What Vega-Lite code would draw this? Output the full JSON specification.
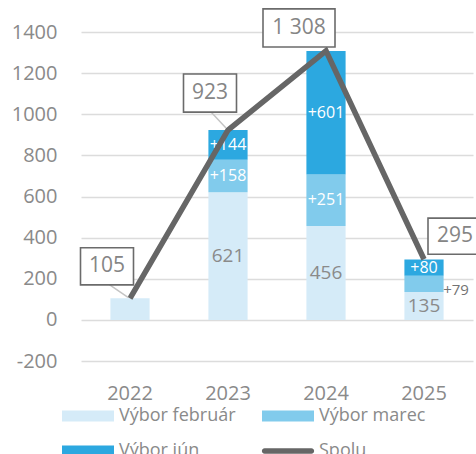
{
  "$schema": "https://vega.github.io/schema/vega-lite/v6.json",
  "width": 392,
  "height": 329,
  "autosize": {"type": "none"},
  "padding": {"left": 81, "top": 32, "right": 3, "bottom": 93},
  "config": {
    "font": "Open Sans",
    "view": {"stroke": null},
    "locale": {"number": {"decimal": ",", "thousands": " ", "grouping": [3], "currency": ["", " €"], "minus": "-"}}
  },
  "datasets": {
    "bars": [
      {"rok": "2022", "vybor": "Výbor február", "poradie": 1, "hodnota": 105},
      {"rok": "2023", "vybor": "Výbor február", "poradie": 1, "hodnota": 621},
      {"rok": "2023", "vybor": "Výbor marec", "poradie": 2, "hodnota": 158},
      {"rok": "2023", "vybor": "Výbor jún", "poradie": 3, "hodnota": 144},
      {"rok": "2024", "vybor": "Výbor február", "poradie": 1, "hodnota": 456},
      {"rok": "2024", "vybor": "Výbor marec", "poradie": 2, "hodnota": 251},
      {"rok": "2024", "vybor": "Výbor jún", "poradie": 3, "hodnota": 601},
      {"rok": "2025", "vybor": "Výbor február", "poradie": 1, "hodnota": 135},
      {"rok": "2025", "vybor": "Výbor marec", "poradie": 2, "hodnota": 79},
      {"rok": "2025", "vybor": "Výbor jún", "poradie": 3, "hodnota": 80}
    ],
    "spolu": [
      {"rok": "2022", "seria": "Spolu", "spolu": 105},
      {"rok": "2023", "seria": "Spolu", "spolu": 923},
      {"rok": "2024", "seria": "Spolu", "spolu": 1308},
      {"rok": "2025", "seria": "Spolu", "spolu": 295}
    ]
  },
  "encoding": {
    "x": {
      "field": "rok",
      "type": "nominal",
      "scale": {"paddingInner": 0.6, "paddingOuter": 0.3},
      "axis": {
        "title": null,
        "labelAngle": 0,
        "labelFontSize": 20,
        "labelColor": "#8a8a8a",
        "labelPadding": 22,
        "domain": false,
        "ticks": false
      }
    }
  },
  "layer": [
    {
      "data": {"name": "bars"},
      "mark": {"type": "bar"},
      "encoding": {
        "y": {
          "field": "hodnota",
          "type": "quantitative",
          "stack": "zero",
          "scale": {"domain": [-200, 1400], "nice": false},
          "axis": {
            "title": null,
            "values": [-200, 0, 200, 400, 600, 800, 1000, 1200, 1400],
            "format": "d",
            "labelFontSize": 20,
            "labelColor": "#8a8a8a",
            "labelPadding": 24,
            "domain": false,
            "ticks": false,
            "gridColor": "#dcdcdc",
            "gridWidth": 1.3
          }
        },
        "order": {"field": "poradie", "type": "quantitative"},
        "color": {
          "field": "vybor",
          "type": "nominal",
          "scale": {
            "domain": ["Výbor február", "Výbor marec", "Výbor jún", "Spolu"],
            "range": ["#d5ebf8", "#81cbec", "#2ca8e0", "#666666"]
          },
          "legend": {
            "title": null,
            "orient": "none",
            "direction": "horizontal",
            "legendX": -19,
            "legendY": 358,
            "columns": 2,
            "columnPadding": 25,
            "rowPadding": -22,
            "symbolType": "M-1,-0.21H1V0.21H-1Z",
            "symbolSize": 2704,
            "symbolStrokeWidth": 0,
            "labelFontSize": 18,
            "labelColor": "#8a8a8a",
            "labelOffset": 5,
            "encode": {
              "symbols": {
                "update": {
                  "size": {"value": 2704},
                  "strokeWidth": {"value": 0},
                  "opacity": {"value": 1},
                  "fill": {"signal": "scale('color', datum.value)"},
                  "shape": {"signal": "datum.value === 'Spolu' ? 'M-0.9,-0.105H0.9A0.105,0.105 0 0 1 0.9,0.105H-0.9A0.105,0.105 0 0 1 -0.9,-0.105Z' : 'M-1,-0.21H1V0.21H-1Z'"}
                }
              }
            }
          }
        }
      }
    },
    {
      "data": {"name": "bars"},
      "transform": [
        {"stack": "hodnota", "groupby": ["rok"], "sort": [{"field": "poradie"}], "as": ["y0", "y1"]},
        {"calculate": "(datum.y0 + datum.y1) / 2", "as": "stred"},
        {"calculate": "datum.poradie === 1 ? '' + datum.hodnota : '+' + datum.hodnota", "as": "popis"},
        {"filter": "datum.rok !== '2022' && !(datum.rok === '2025' && datum.poradie === 2)"}
      ],
      "mark": {"type": "text", "baseline": "middle"},
      "encoding": {
        "y": {"field": "stred", "type": "quantitative"},
        "text": {"field": "popis"},
        "size": {
          "condition": {"test": "datum.poradie === 1", "value": 19},
          "value": 16
        },
        "color": {
          "condition": {"test": "datum.poradie === 1", "value": "#8a8a8a"},
          "value": "#ffffff"
        }
      }
    },
    {
      "data": {"name": "bars"},
      "transform": [
        {"stack": "hodnota", "groupby": ["rok"], "sort": [{"field": "poradie"}], "as": ["y0", "y1"]},
        {"calculate": "(datum.y0 + datum.y1) / 2", "as": "stred"},
        {"calculate": "'+' + datum.hodnota", "as": "popis"},
        {"filter": "datum.rok === '2025' && datum.poradie === 2"}
      ],
      "mark": {"type": "text", "fontSize": 15, "baseline": "middle", "dx": 32, "dy": 6, "color": "#737373"},
      "encoding": {
        "y": {"field": "stred", "type": "quantitative"},
        "text": {"field": "popis"}
      }
    },
    {
      "data": {"name": "spolu"},
      "mark": {"type": "line", "strokeWidth": 5.5, "strokeJoin": "miter"},
      "encoding": {
        "y": {"field": "spolu", "type": "quantitative"},
        "color": {"field": "seria", "type": "nominal"}
      }
    },
    {
      "data": {"name": "spolu"},
      "transform": [{"filter": "datum.rok === '2022'"}],
      "layer": [
        {
          "mark": {"type": "rule", "color": "#c4c4c4", "strokeWidth": 1.5, "xOffset": -21, "yOffset": -14, "x2Offset": -2, "y2Offset": -1},
          "encoding": {
            "y": {"field": "spolu", "type": "quantitative"},
            "x2": {"field": "rok"},
            "y2": {"field": "spolu"}
          }
        },
        {
          "mark": {"type": "point", "shape": "M-1,-0.7H1V0.7H-1Z", "size": 2809, "filled": true, "color": "#ffffff", "stroke": "#6b6b6b", "strokeWidth": 1.6, "opacity": 1, "xOffset": -23, "yOffset": -32},
          "encoding": {"y": {"field": "spolu", "type": "quantitative"}}
        },
        {
          "mark": {"type": "text", "fontSize": 21, "baseline": "middle", "color": "#858585", "dx": -23, "dy": -32},
          "encoding": {"y": {"field": "spolu", "type": "quantitative"}, "text": {"field": "spolu", "format": ",d"}}
        }
      ]
    },
    {
      "data": {"name": "spolu"},
      "transform": [{"filter": "datum.rok === '2023'"}],
      "layer": [
        {
          "mark": {"type": "rule", "color": "#c4c4c4", "strokeWidth": 1.5, "xOffset": -17, "yOffset": -18, "x2Offset": -2, "y2Offset": -2},
          "encoding": {
            "y": {"field": "spolu", "type": "quantitative"},
            "x2": {"field": "rok"},
            "y2": {"field": "spolu"}
          }
        },
        {
          "mark": {"type": "point", "shape": "M-1,-0.72H1V0.72H-1Z", "size": 2809, "filled": true, "color": "#ffffff", "stroke": "#6b6b6b", "strokeWidth": 1.6, "opacity": 1, "xOffset": -18, "yOffset": -37},
          "encoding": {"y": {"field": "spolu", "type": "quantitative"}}
        },
        {
          "mark": {"type": "text", "fontSize": 21, "baseline": "middle", "color": "#858585", "dx": -18, "dy": -37},
          "encoding": {"y": {"field": "spolu", "type": "quantitative"}, "text": {"field": "spolu", "format": ",d"}}
        }
      ]
    },
    {
      "data": {"name": "spolu"},
      "transform": [{"filter": "datum.rok === '2024'"}],
      "layer": [
        {
          "mark": {"type": "point", "shape": "M-1,-0.528H1V0.528H-1Z", "size": 5184, "filled": true, "color": "#ffffff", "stroke": "#6b6b6b", "strokeWidth": 1.6, "opacity": 1, "xOffset": -27, "yOffset": -23},
          "encoding": {"y": {"field": "spolu", "type": "quantitative"}}
        },
        {
          "mark": {"type": "text", "fontSize": 21, "baseline": "middle", "color": "#858585", "dx": -27, "dy": -23},
          "encoding": {"y": {"field": "spolu", "type": "quantitative"}, "text": {"field": "spolu", "format": ",d"}}
        }
      ]
    },
    {
      "data": {"name": "spolu"},
      "transform": [{"filter": "datum.rok === '2025'"}],
      "layer": [
        {
          "mark": {"type": "point", "shape": "M-1,-0.67H1V0.67H-1Z", "size": 2916, "filled": true, "color": "#ffffff", "stroke": "#6b6b6b", "strokeWidth": 1.6, "opacity": 1, "xOffset": 31, "yOffset": -23},
          "encoding": {"y": {"field": "spolu", "type": "quantitative"}}
        },
        {
          "mark": {"type": "text", "fontSize": 21, "baseline": "middle", "color": "#858585", "dx": 31, "dy": -23},
          "encoding": {"y": {"field": "spolu", "type": "quantitative"}, "text": {"field": "spolu", "format": ",d"}}
        }
      ]
    }
  ]
}
